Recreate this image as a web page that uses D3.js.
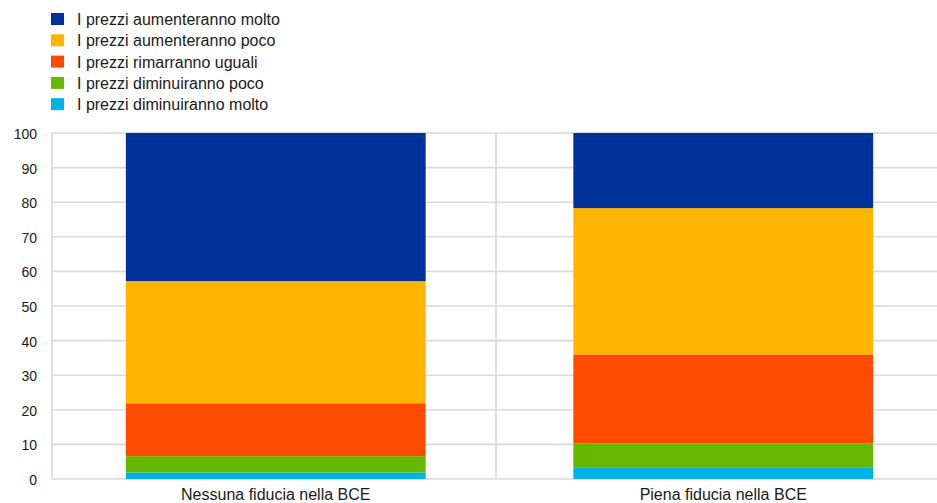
<!DOCTYPE html>
<html><head><meta charset="utf-8">
<script src="https://cdn.jsdelivr.net/npm/d3@7"></script>
<style>body{margin:0;background:#fff}svg{display:block}text{font-family:Arial,"Liberation Sans",sans-serif}</style>
</head><body><svg id="c" width="937" height="503"></svg>
<script>
const categories = ["Nessuna fiducia nella BCE", "Piena fiducia nella BCE"];
const seriesNames = ["I prezzi diminuiranno molto", "I prezzi diminuiranno poco", "I prezzi rimarranno uguali", "I prezzi aumenteranno poco", "I prezzi aumenteranno molto"];
const diminuirannoMolto = [1.9, 3.4];
const diminuirannoPoco = [4.7, 6.9];
const rimarrannoUguali = [15.3, 25.7];
const aumenterannoPoco = [35.3, 42.3];
const aumenterannoMolto = [42.8, 21.7];
const yTicks = [0, 10, 20, 30, 40, 50, 60, 70, 80, 90, 100];
const colors = ["#00B1EA", "#65B800", "#FF4B00", "#FFB400", "#003299"];

(function(){
const values = [diminuirannoMolto, diminuirannoPoco, rimarrannoUguali, aumenterannoPoco, aumenterannoMolto];
const rows = categories.map((c, i) => {
  const r = {cat: c};
  seriesNames.forEach((s, j) => r[s] = values[j][i]);
  return r;
});
const stack = d3.stack().keys(seriesNames)(rows);

const svg = d3.select("#c");
const pL = 52, pR = 947, pT = 133, pB = 479;
const x = d3.scaleBand().domain(categories).range([pL, pR]).paddingInner(0).paddingOuter(0);
const y = d3.scaleLinear().domain([0, 100]).range([pB, pT]);

// gridlines
const g = svg.append("g");
g.selectAll("line.h").data(yTicks).join("line")
  .attr("x1", pL).attr("x2", pR)
  .attr("y1", d => y(d)).attr("y2", d => y(d))
  .attr("stroke", "#d9d9d9").attr("stroke-width", 1.6);
const vlines = [pL].concat(categories.slice(1).map(c => x(c) - 3.5));
g.selectAll("line.v").data(vlines).join("line")
  .attr("x1", d => d).attr("x2", d => d)
  .attr("y1", pT).attr("y2", pB)
  .attr("stroke", "#d9d9d9").attr("stroke-width", 1.6);

// bars
const bw = x.bandwidth() * 0.67;
svg.append("g").selectAll("g").data(stack).join("g")
  .attr("fill", (d, i) => colors[i])
  .selectAll("rect").data(d => d).join("rect")
  .attr("x", d => x(d.data.cat) + (x.bandwidth() - bw) / 2)
  .attr("width", bw)
  .attr("y", d => y(d[1]))
  .attr("height", d => y(d[0]) - y(d[1]));

// y axis labels
const yAxis = d3.axisLeft(y).tickValues(yTicks).tickSize(0).tickPadding(0);
const ya = svg.append("g").attr("transform", `translate(37,1)`).call(yAxis);
ya.select(".domain").remove();
ya.selectAll("text").attr("font-size", 14).attr("fill", "#1a1a1a").attr("font-family", "Arial, 'Liberation Sans', sans-serif");

// x axis labels
const xAxis = d3.axisBottom(x).tickSize(0).tickPadding(0);
const xa = svg.append("g").attr("transform", `translate(0,${pB + 10})`).call(xAxis);
xa.select(".domain").remove();
xa.selectAll("text").attr("font-size", 16).attr("fill", "#1a1a1a").attr("font-family", "Arial, 'Liberation Sans', sans-serif");

// legend
const legendOrder = seriesNames.slice().reverse();
const leg = svg.append("g");
legendOrder.forEach((s, i) => {
  const cy = 19 + i * 21.3;
  leg.append("rect").attr("x", 51).attr("y", cy - 6).attr("width", 13).attr("height", 12)
    .attr("fill", colors[seriesNames.indexOf(s)]);
  leg.append("text").attr("x", 77).attr("y", cy + 6).attr("font-size", 16).attr("fill", "#1a1a1a").text(s);
});
})();
</script></body></html>
